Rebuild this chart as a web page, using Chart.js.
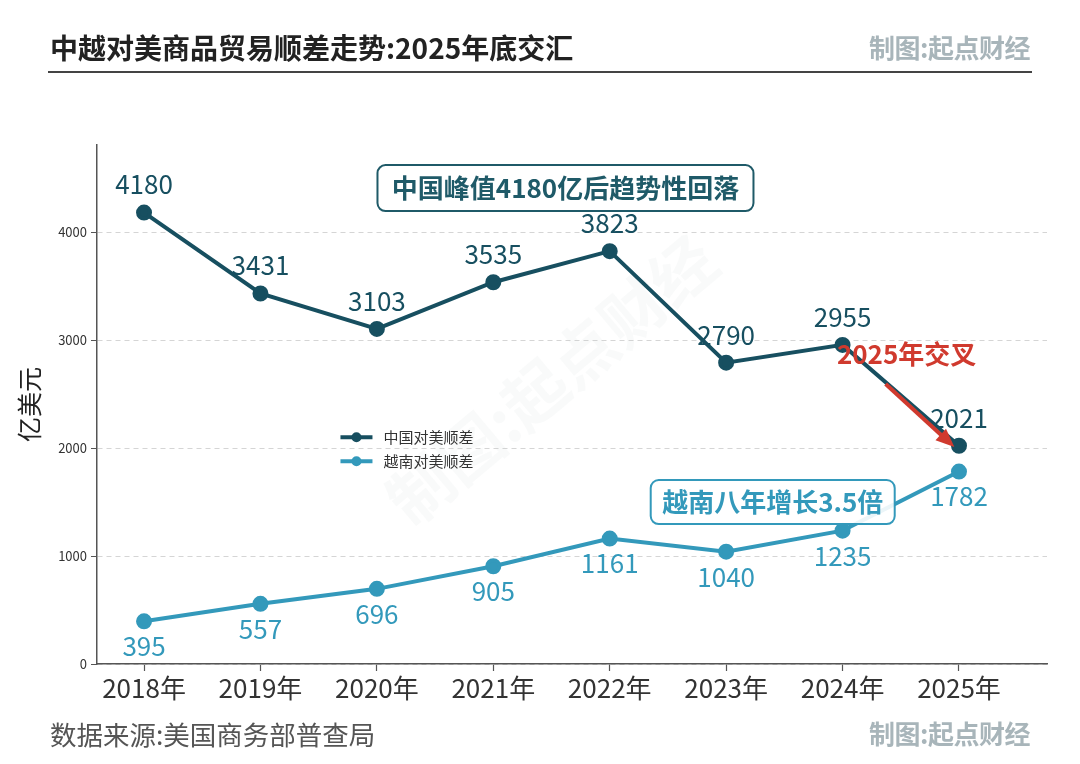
<!DOCTYPE html>
<html>
<head>
<meta charset="utf-8">
<script src="https://cdn.jsdelivr.net/npm/chart.js@4.4.1/dist/chart.umd.min.js"></script>
<style>
  html, body { margin: 0; padding: 0; background: #fff; }
  #wrap { position: relative; width: 1080px; height: 764px; font-family: "Noto Sans CJK SC", "Noto Sans", sans-serif; }
  #c { position: absolute; left: 0; top: 0; }
  .txt { position: absolute; white-space: nowrap; }
  #title { left: 50px; top: 27px; font-size: 28px; font-weight: 700; color: #222; }
  #brandTop { right: 50px; top: 28px; font-size: 26px; font-weight: 700; color: #a8b5ba; letter-spacing: -0.5px; }
  #rule { position: absolute; left: 48px; top: 71px; width: 984px; height: 2px; background: #444; }
  #source { left: 50px; top: 714px; font-size: 26.5px; color: #555; }
  #brandBottom { right: 50px; top: 714px; font-size: 26px; font-weight: 700; color: #a8b5ba; letter-spacing: -0.5px; }
</style>
</head>
<body>
<div id="wrap">
  <canvas id="c" width="1080" height="764"></canvas>
  <div class="txt" id="title">中越对美商品贸易顺差走势:2025年底交汇</div>
  <div class="txt" id="brandTop">制图:起点财经</div>
  <div id="rule"></div>
  <div class="txt" id="source">数据来源:美国商务部普查局</div>
  <div class="txt" id="brandBottom">制图:起点财经</div>
</div>
<script>
const years = ['2018年', '2019年', '2020年', '2021年', '2022年', '2023年', '2024年', '2025年'];
const chinaSurplus = [4180, 3431, 3103, 3535, 3823, 2790, 2955, 2021];
const vietnamSurplus = [395, 557, 696, 905, 1161, 1040, 1235, 1782];
const seriesNames = ['中国对美顺差', '越南对美顺差'];
const yTicks = [0, 1000, 2000, 3000, 4000];

const chinaColor = '#174f60';
const vietColor = '#3399bb';
const FONT = '"Noto Sans CJK SC", "Noto Sans", sans-serif';

const toPoints = arr => arr.map((v, i) => ({x: i, y: v}));

// value labels, annotation boxes, arrow, legend and watermark
const extras = {
    id: 'extras',
    beforeDatasetsDraw(chart) {
        const {ctx, scales: {x, y}} = chart;
        ctx.save();
        ctx.translate(x.getPixelForValue(3.5), y.getPixelForValue(2630));
        ctx.rotate(-40 * Math.PI / 180);
        ctx.font = `700 64px ${FONT}`;
        ctx.fillStyle = 'rgba(200,205,210,0.10)';
        ctx.textAlign = 'center';
        ctx.textBaseline = 'middle';
        ctx.fillText('制图:起点财经', 0, 0);
        ctx.restore();
    },
    afterDatasetsDraw(chart) {
        const {ctx, scales: {x, y}} = chart;
        ctx.save();
        ctx.textAlign = 'center';
        ctx.textBaseline = 'middle';
        ctx.font = `400 26px ${FONT}`;

        const cn = chart.getDatasetMeta(0).data;
        cn.forEach((pt, i) => {
            ctx.fillStyle = chinaColor;
            ctx.fillText(String(chinaSurplus[i]), pt.x, pt.y - 28);
        });
        const vn = chart.getDatasetMeta(1).data;
        vn.forEach((pt, i) => {
            ctx.fillStyle = vietColor;
            ctx.fillText(String(vietnamSurplus[i]), pt.x, pt.y + 25);
        });

        const box = (text, xi, yv, w, h, color) => {
            const cx = x.getPixelForValue(xi), cy = y.getPixelForValue(yv);
            ctx.beginPath();
            ctx.roundRect(cx - w / 2, cy - h / 2, w, h, 8);
            ctx.fillStyle = 'rgba(255,255,255,0.9)';
            ctx.fill();
            ctx.lineWidth = 2;
            ctx.strokeStyle = color;
            ctx.stroke();
            ctx.font = `700 26px ${FONT}`;
            ctx.fillStyle = color;
            ctx.fillText(text, cx, cy);
        };
        box('中国峰值4180亿后趋势性回落', 3.62, 4407, 376, 46, '#1f5a68');
        box('越南八年增长3.5倍', 5.4, 1500, 244, 44, vietColor);

        // red crossing callout
        ctx.font = `700 26px ${FONT}`;
        ctx.fillStyle = '#d03a2e';
        ctx.fillText('2025年交叉', x.getPixelForValue(6.55), y.getPixelForValue(2870));

        const x1 = x.getPixelForValue(6.37), y1 = y.getPixelForValue(2593);
        const x2 = x.getPixelForValue(6.96), y2 = y.getPixelForValue(2009);
        const ang = Math.atan2(y2 - y1, x2 - x1);
        const head = 20;
        ctx.strokeStyle = '#d03a2e';
        ctx.lineWidth = 4;
        ctx.beginPath();
        ctx.moveTo(x1, y1);
        ctx.lineTo(x2 - head * 0.8 * Math.cos(ang), y2 - head * 0.8 * Math.sin(ang));
        ctx.stroke();
        ctx.fillStyle = '#d03a2e';
        ctx.beginPath();
        ctx.moveTo(x2, y2);
        ctx.lineTo(x2 - head * Math.cos(ang - 0.4), y2 - head * Math.sin(ang - 0.4));
        ctx.lineTo(x2 - head * Math.cos(ang + 0.4), y2 - head * Math.sin(ang + 0.4));
        ctx.closePath();
        ctx.fill();

        // legend
        const lx = x.getPixelForValue(-0.4) + 243, ly = y.getPixelForValue(2100);
        [chinaColor, vietColor].forEach((col, i) => {
            const yy = ly + i * 24;
            ctx.strokeStyle = col;
            ctx.lineWidth = 4;
            ctx.beginPath();
            ctx.moveTo(lx, yy);
            ctx.lineTo(lx + 32, yy);
            ctx.stroke();
            ctx.fillStyle = col;
            ctx.beginPath();
            ctx.arc(lx + 16, yy, 5, 0, Math.PI * 2);
            ctx.fill();
            ctx.fillStyle = '#333';
            ctx.font = `400 15px ${FONT}`;
            ctx.textAlign = 'left';
            ctx.fillText(seriesNames[i], lx + 43, yy);
        });
        ctx.restore();
    }
};

new Chart(document.getElementById('c'), {
    type: 'line',
    data: {
        datasets: [
            {
                label: seriesNames[0],
                data: toPoints(chinaSurplus),
                borderColor: chinaColor,
                backgroundColor: chinaColor,
                borderWidth: 4,
                pointRadius: 6,
                pointHoverRadius: 6
            },
            {
                label: seriesNames[1],
                data: toPoints(vietnamSurplus),
                borderColor: vietColor,
                backgroundColor: vietColor,
                borderWidth: 4,
                pointRadius: 6,
                pointHoverRadius: 6
            }
        ]
    },
    options: {
        responsive: false,
        animation: false,
        layout: {padding: {top: 145, right: 33, left: 0, bottom: 0}},
        plugins: {legend: {display: false}, tooltip: {enabled: false}},
        scales: {
            x: {
                type: 'linear',
                min: -0.404,
                max: 7.756,
                afterBuildTicks: s => { s.ticks = years.map((_, i) => ({value: i})); },
                afterFit: s => { s.height = 100; },
                ticks: {
                    callback: v => years[v] || '',
                    font: {family: FONT, size: 26},
                    color: '#333',
                    padding: 2,
                    maxRotation: 0,
                    autoSkip: false
                },
                grid: {drawOnChartArea: false, drawTicks: true, tickLength: 7, tickColor: '#555', tickWidth: 1.2},
                border: {color: '#555', width: 1.5}
            },
            y: {
                min: 0,
                max: 4806,
                afterBuildTicks: s => { s.ticks = yTicks.map(v => ({value: v})); },
                afterFit: s => { s.width = 97; },
                ticks: {
                    callback: v => String(v),
                    font: {family: FONT, size: 13},
                    color: '#333',
                    padding: 4
                },
                title: {
                    display: true,
                    text: '亿美元',
                    font: {family: FONT, size: 25},
                    color: '#222',
                    padding: {top: 14, bottom: 0}
                },
                grid: {
                    color: '#d5d5d5',
                    lineWidth: 1,
                    tickLength: 6,
                    tickColor: '#555',
                    tickBorderDash: [1, 0]
                },
                border: {color: '#555', width: 1.5, dash: [5, 4]}
            }
        }
    },
    plugins: [extras]
});
</script>
</body>
</html>
